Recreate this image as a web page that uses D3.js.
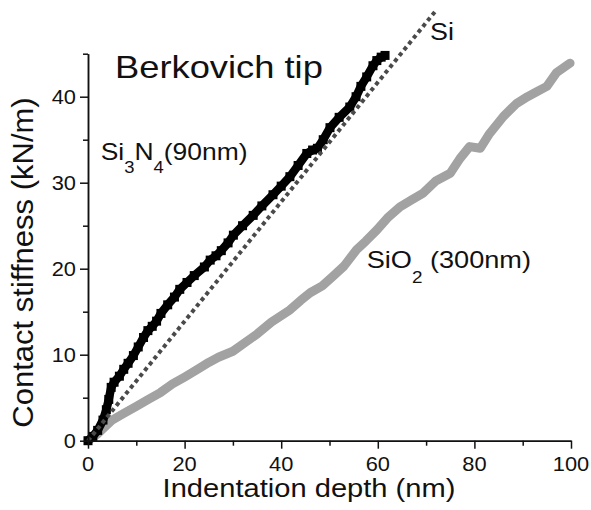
<!DOCTYPE html>
<html>
<head>
<meta charset="utf-8">
<script src="https://cdn.jsdelivr.net/npm/d3@7"></script>
<style>
  html, body { margin: 0; padding: 0; background: #fff; }
  svg { display: block; }
  text { font-family: "Liberation Sans", Arial, sans-serif; fill: #111; }
</style>
</head>
<body>
<svg id="chart" width="591" height="510"></svg>
<script>
// ---- data ----
const xTicks = [0, 20, 40, 60, 80, 100];
const xMinor = [10, 30, 50, 70, 90];
const yTicks = [0, 10, 20, 30, 40];
const yMinor = [5, 15, 25, 35, 45];

// Si3N4 (90nm) film: [depth nm, stiffness kN/m]
const si3n4 = [
  [0,0],[1.0,0.5],[2.0,1.2],[3.1,2.4],[3.8,3.6],[4.3,4.8],[4.8,6.2],[5.4,6.8],
  [6.5,7.5],[7.4,8.3],[8.3,9.0],[9.4,9.9],[10.4,10.9],[11.5,12.0],[12.4,12.8],
  [13.3,13.3],[14.2,13.9],[15.1,14.8],[16.5,15.8],[17.9,16.7],[19.0,17.6],
  [20.5,18.4],[22.0,19.2],[24.1,20.2],[25.3,21.0],[26.5,21.5],[27.6,22.1],
  [29.0,23.0],[30.1,23.9],[32.0,25.0],[34.2,26.2],[36.0,27.3],[38.3,28.6],
  [40.0,29.6],[41.8,30.7],[43.5,32.0],[45.3,33.4],[46.5,33.8],[47.5,34.0],
  [48.7,35.0],[50.1,36.4],[52.0,37.6],[54.2,38.8],[55.5,40.0],[56.5,41.2],
  [57.7,42.3],[59.0,43.6],[59.8,44.2],[60.7,44.6],[61.5,44.8]
];

// SiO2 (300nm) film
const sio2 = [
  [0,0],[2,0.8],[5,2.4],[7.5,3.2],[10,4.0],[12.5,4.8],[15,5.6],[17.5,6.6],
  [20,7.4],[23,8.4],[25,9.1],[27,9.7],[30,10.4],[32.5,11.4],[35,12.4],
  [38,13.8],[41.8,15.2],[44,16.3],[46,17.2],[48.5,18.0],[50.7,19.1],
  [53,20.3],[55.6,22.2],[57.5,23.2],[59.8,24.5],[62,25.9],[64.6,27.2],
  [67,28.0],[69.4,28.8],[72,30.2],[75,31.1],[77,32.8],[79,34.2],[81.2,34.0],
  [83,35.6],[86,37.7],[88.7,39.2],[91,40.0],[93,40.6],[95,41.2],[97,42.8],
  [99.8,43.9]
];

// Si reference (dashed straight line)
const siLine = [[0,0],[72,50]];

// ---- layout ----
const svg = d3.select("#chart");
const x = d3.scaleLinear().domain([0, 100]).range([88, 571]);
const y = d3.scaleLinear().domain([0, 45]).range([440.7, 53.7]);

function label(str, px, py, size, sx, anchor, rot) {
  const g = svg.append("g")
    .attr("transform", `translate(${px},${py}) rotate(${rot||0}) scale(${sx},1)`);
  const t = g.append("text").attr("x", 0).attr("y", 0)
    .attr("font-size", size).attr("text-anchor", anchor || "start");
  return t;
}
function subLabel(parts, px, py, size, subSize, subDy, sx) {
  const t = label("", px, py, size, sx, "start", 0);
  parts.forEach(p => {
    if (p.sub) {
      t.append("tspan").attr("font-size", subSize).attr("dy", subDy).text(p.t);
    } else {
      t.append("tspan").attr("font-size", size).attr("dy", p.back ? -subDy : 0).text(p.t);
    }
  });
  return t;
}

// ---- series ----
const line = d3.line().x(d => x(d[0])).y(d => y(d[1]));

svg.append("path").datum(sio2)
  .attr("d", line).attr("fill", "none")
  .attr("stroke", "#a2a2a2").attr("stroke-width", 9)
  .attr("stroke-linejoin", "round").attr("stroke-linecap", "round");

svg.append("path").datum(si3n4)
  .attr("d", line).attr("fill", "none")
  .attr("stroke", "#000").attr("stroke-width", 8.5)
  .attr("stroke-linejoin", "miter");
svg.append("g").selectAll("rect").data(si3n4).join("rect")
  .attr("x", d => x(d[0]) - 4.5).attr("y", d => y(d[1]) - 4.5)
  .attr("width", 9).attr("height", 9).attr("fill", "#000");

svg.append("path").datum(siLine)
  .attr("d", line).attr("fill", "none")
  .attr("stroke", "#4a4a4a").attr("stroke-width", 4)
  .attr("stroke-dasharray", "4,3.5");

// ---- axes ----
const axisStyle = g => {
  g.selectAll("path, line").attr("stroke", "#111").attr("stroke-width", 1.5);
  g.selectAll("text").remove();
};
svg.append("g").attr("transform", `translate(0,${y(0)})`)
  .call(d3.axisBottom(x).tickValues(xTicks).tickSize(8).tickSizeOuter(0))
  .call(axisStyle);
svg.append("g").attr("transform", `translate(0,${y(0)})`)
  .call(d3.axisBottom(x).tickValues(xMinor).tickSize(5).tickSizeOuter(0))
  .call(axisStyle);
svg.append("g").attr("transform", `translate(${x(0)},0)`)
  .call(d3.axisLeft(y).tickValues(yTicks).tickSize(8).tickSizeOuter(0))
  .call(axisStyle);
svg.append("g").attr("transform", `translate(${x(0)},0)`)
  .call(d3.axisLeft(y).tickValues(yMinor).tickSize(5).tickSizeOuter(0))
  .call(axisStyle);

// tick labels
xTicks.forEach(v => label("", x(v), 471, 19.5, 1.12, "middle").text(v));
yTicks.forEach(v => label("", 76, y(v) + 7, 19.5, 1.12, "end").text(v));

// axis titles
label("", 309, 497, 26, 1.12, "middle").text("Indentation depth (nm)");
label("", 33, 262.5, 29, 1.07, "middle", -90).text("Contact stiffness (kN/m)");

// annotations
label("", 115, 78, 32, 1.135, "start").text("Berkovich tip");
label("", 430, 40, 23, 1.17, "start").text("Si");
subLabel([{t:"Si"},{t:"3",sub:true},{t:"N",back:true},{t:"4",sub:true},{t:"(90nm)",back:true}],
  100.7, 160, 23, 16, 13, 1.15);
subLabel([{t:"SiO"},{t:"2",sub:true},{t:" (300nm)",back:true}],
  366.7, 268.3, 23, 16, 15, 1.18);
</script>
</body>
</html>
